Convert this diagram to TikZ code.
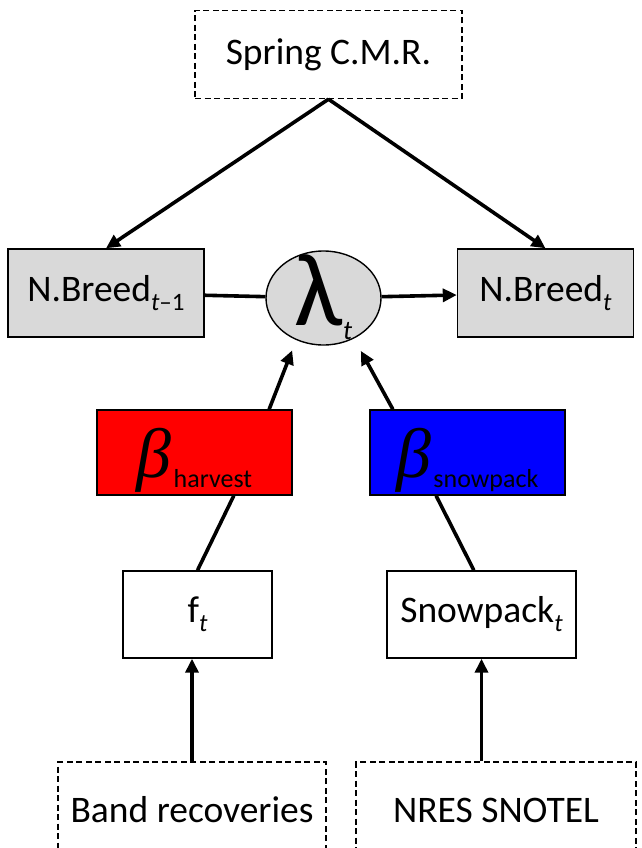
\documentclass[tikz,border=0pt]{standalone}
\usepackage{fontspec}
\setmainfont{Carlito}
\newfontfamily\betafont{Liberation Serif}
\usepackage{tikz}
\usetikzlibrary{positioning, bayesnet, arrows, arrows.meta, calc, shapes}

\tikzset{
  box/.style={draw, line width=1.4pt, inner sep=0pt, font=\fontsize{37.5}{38}\selectfont},
  srcbox/.style={box, dash pattern=on 6pt off 3.5pt},
  statebox/.style={box, fill=black!15, minimum height=88pt},
  coefbox/.style={box, minimum width=195pt, minimum height=85pt, text depth=0pt},
  varbox/.style={box, minimum height=87pt},
  link/.style={line width=3.6pt, >={Triangle[length=14pt,width=13pt]}},
}
\newcommand{\tsub}[1]{\raisebox{-9pt}{\fontsize{25}{25}\selectfont #1}}
\newcommand{\coef}[1]{{\fontsize{70}{70}\selectfont\betafont\itshape β}\hspace{2pt}\raisebox{-10pt}{\fontsize{26}{26}\selectfont #1}}

\begin{document}
\begin{tikzpicture}[x=1pt, y=-1pt]
\useasboundingbox (0,0) rectangle (641,848);

\node[srcbox, minimum width=267pt, minimum height=88pt] (cmr) at (328.5,54.5) {Spring C.M.R.};
\node[statebox, minimum width=196pt] (nbprev) at (106,293) {N.Breed\tsub{\textit{t}–1}};
\node[statebox, minimum width=176pt] (nbnow) at (545.5,293) {N.Breed\tsub{\textit{t}}};
\node[box, ellipse, fill=black!15, minimum width=115pt, minimum height=94pt,
      text height=54pt, text depth=0pt] (lam) at (323.5,298)
  {\fontsize{104}{104}\selectfont λ\raisebox{-14pt}{\fontsize{27}{27}\selectfont\textit{t}}};

\node[coefbox, fill=red] (bharv) at (194.5,452.5) {\coef{harvest}};
\node[coefbox, fill=blue] (bsnow) at (467.5,452.5) {\coef{snowpack}};

\node[varbox, minimum width=149pt] (ft) at (197.5,614.5) {f\tsub{\textit{t}}};
\node[varbox, minimum width=189pt] (snow) at (481.5,614.5) {Snowpack\tsub{\textit{t}}};

\node[srcbox, minimum width=268pt, minimum height=96pt] (band) at (192,810) {Band recoveries};
\node[srcbox, minimum width=280pt, minimum height=96pt] (nres) at (496,810) {NRES SNOTEL};

% anchor points on the box edges
\coordinate (bharvtop) at ($(bharv.north west)!0.88!(bharv.north east)$);
\coordinate (bharvbot) at ($(bharv.south west)!0.70!(bharv.south east)$);
\coordinate (bsnowtop) at ($(bsnow.north west)!0.12!(bsnow.north east)$);
\coordinate (bsnowbot) at ($(bsnow.south west)!0.34!(bsnow.south east)$);
\coordinate (snowtop) at ($(snow.north west)!0.46!(snow.north east)$);
\coordinate (nresout) at (nres.north -| snow.south);

\edge[link] {cmr.south} {nbprev.north, nbnow.north};
\edge[link, -] {nbprev} {lam};
\edge[link] {lam} {nbnow};
\edge[link, shorten >=11pt] {bharvtop} {lam.237};
\edge[link, shorten >=14pt] {bsnowtop} {lam.307};
\edge[link, -] {ft.north} {bharvbot};
\edge[link, -] {snowtop} {bsnowbot};
\edge[link] {band.north} {band.north |- ft.south};
\edge[link] {nresout} {snow.south};
\end{tikzpicture}
\end{document}
